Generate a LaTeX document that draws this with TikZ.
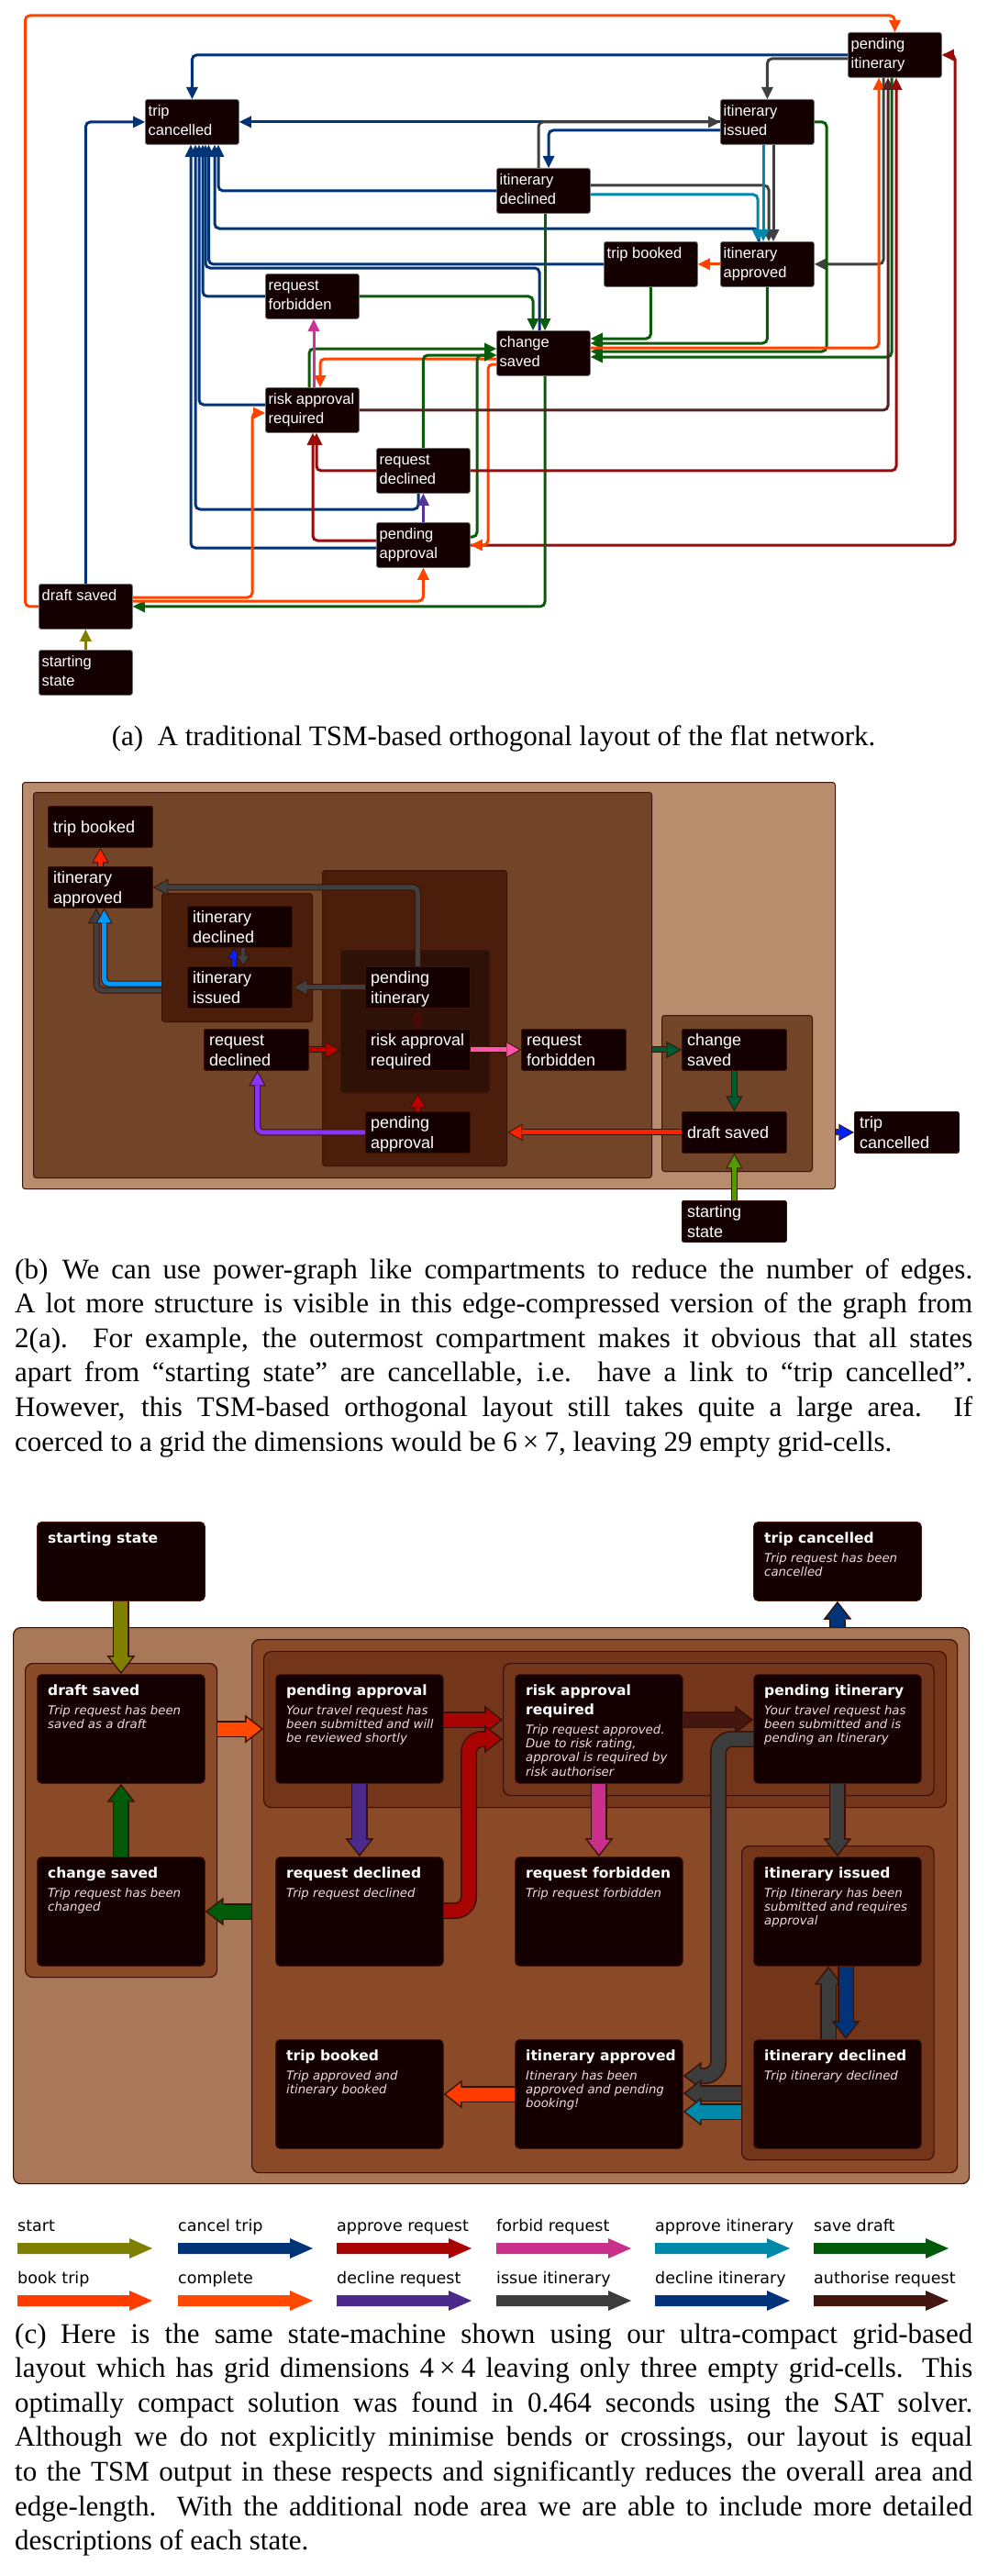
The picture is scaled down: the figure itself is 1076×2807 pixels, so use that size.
\documentclass[tikz,border=0pt]{standalone}
\usepackage{fontspec}
\setmainfont{Liberation Serif}
\newfontfamily\arialf{Liberation Sans}
\newfontfamily\dejavu{DejaVu Sans}[BoldFont={DejaVu Sans Bold},ItalicFont={DejaVu Sans Oblique},BoldItalicFont={DejaVu Sans Bold Oblique}]
\usetikzlibrary{arrows.meta}
% colours
\definecolor{nfill}{HTML}{140000}
\definecolor{cblue}{HTML}{003377}
\definecolor{corange}{HTML}{FF4400}
\definecolor{cgreen}{HTML}{0A5C0A}
\definecolor{cred}{HTML}{990A0A}
\definecolor{cgray}{HTML}{404040}
\definecolor{cteal}{HTML}{0088AA}
\definecolor{cmag}{HTML}{CC3399}
\definecolor{cbrown}{HTML}{552222}
\definecolor{colive}{HTML}{808000}
\definecolor{cviolet}{HTML}{553399}
% (b)
\definecolor{boutl}{HTML}{3A1206}
\definecolor{bc1}{HTML}{B88D6E}
\definecolor{bc2}{HTML}{734528}
\definecolor{bc3}{HTML}{4A1E0A}
\definecolor{bc4}{HTML}{2E1208}
\definecolor{bredA}{HTML}{FF2200}
\definecolor{bgray}{HTML}{404040}
\definecolor{bcyan}{HTML}{0099FF}
\definecolor{bblue}{HTML}{0022FF}
\definecolor{bdred}{HTML}{BB0000}
\definecolor{bbrown}{HTML}{4A0A0A}
\definecolor{bviolet}{HTML}{8833FF}
\definecolor{bpink}{HTML}{FF55AA}
\definecolor{bgreen}{HTML}{005A32}
\definecolor{blgreen}{HTML}{559900}
% (c)
\definecolor{coutl}{HTML}{3A1005}
\definecolor{cc1}{HTML}{A87858}
\definecolor{cc2}{HTML}{8A4A28}
\definecolor{cc3}{HTML}{74361A}
\definecolor{cnb}{HTML}{4A1A10}
\definecolor{cdtext}{HTML}{F0DCDC}
\definecolor{cgreenC}{HTML}{005A0A}
\definecolor{corangeC}{HTML}{FF3C00}
\definecolor{ccomplete}{HTML}{FF4800}
\definecolor{cpurple}{HTML}{4C2A8C}
\definecolor{credC}{HTML}{A80404}
\definecolor{cbrownC}{HTML}{441610}
\definecolor{cmagC}{HTML}{C8308C}
\definecolor{cgrayC}{HTML}{3C3C3C}
\definecolor{ctealC}{HTML}{0088A8}
\definecolor{cnavy}{HTML}{003377}
% fonts
\newcommand\afont{\arialf\fontsize{16.5}{20.5}\selectfont}
\newcommand\bfont{\arialf\fontsize{18}{22}\selectfont}
\newcommand\ctfont{\dejavu\bfseries\fontsize{15.5}{21}\selectfont}
\newcommand\cdfont{\dejavu\itshape\fontsize{13.3}{15.4}\selectfont}
\newcommand\capfont{\fontsize{31}{37.6}\selectfont}
\newcommand\legfont{\dejavu\fontsize{17.5}{20}\selectfont}
\tikzset{
  abox/.style={draw=black!55, line width=0.8pt, fill=nfill, rounded corners=2.5pt, minimum width=102pt, minimum height=49pt, inner sep=0pt, anchor=north west},
  atext/.style={text=white, font=\afont, inner sep=0pt, anchor=base west},
  ae/.style={line width=3pt, rounded corners=5pt, -{Triangle[length=13pt,width=13pt,line width=0pt]}},
  bbox/.style={draw=boutl, line width=0.8pt, fill=nfill, rounded corners=2pt, minimum width=114pt, minimum height=45pt, inner sep=0pt, anchor=north west},
  btext/.style={text=white, font=\bfont, inner sep=0pt, anchor=base west},
  comp/.style={draw=boutl, line width=1pt, rounded corners=3pt, inner sep=0pt, anchor=north west},
  ccomp/.style={draw=coutl, line width=1.2pt, rounded corners=8pt, inner sep=0pt, anchor=north west},
  cbox/.style={draw=cnb, line width=0.8pt, fill=nfill, rounded corners=5pt, minimum width=183pt, inner sep=0pt, anchor=north west},
  ctitle/.style={text=white, font=\ctfont, inner sep=0pt, anchor=base west},
  cdesc/.style={text=cdtext, font=\cdfont, inner sep=0pt, anchor=base west},
  capt/.style={font=\capfont, inner sep=0pt, text=black},
  legt/.style={font=\legfont, inner sep=0pt, anchor=base west, text=black},
}
\newcommand\anode[4]{\node[abox] (#1) at (#2,#3) {};
  \node[atext] (#1t) at (#2+3.5,#3+18.7) {\parbox[t]{98pt}{#4}};}
\newcommand\bnode[5]{\node[bbox] (#1) at (#2,#3) {};
  \node[btext] (#1t) at (#2+6,#3+#5) {\parbox[t]{106pt}{#4}};}
\newcommand\cnode[7]{\node[cbox, minimum height=#4pt] (#1) at (#2,#3) {};
  \node[ctitle] (#1t) at (#2+12,#3+23) {\parbox[t]{170pt}{#5}};
  \node[cdesc] (#1d) at (#2+12,#3+#7) {\parbox[t]{170pt}{#6}};}
\newcommand\fatB[3][]{%
  \draw[#1, line width=7pt, draw=boutl, -{Triangle[length=16.6pt,width=18.4pt,line width=0pt]}] #3;
  \draw[#1, line width=5pt, draw=#2, -{Triangle[length=13.5pt,width=15pt,line width=0pt]}, shorten >=2.06pt] #3;}
\newcommand\fatBs[3][]{%
  \draw[#1, line width=6pt, draw=boutl, -{Triangle[length=12.4pt,width=15.6pt,line width=0pt]}] #3;
  \draw[#1, line width=4pt, draw=#2, -{Triangle[length=9.5pt,width=12pt,line width=0pt]}, shorten >=1.87pt] #3;}
\newcommand\fatC[3][]{%
  \draw[#1, line width=18pt, draw=coutl, -{Triangle[length=19.9pt,width=31pt,line width=0pt]}] #3;
  \draw[#1, line width=15pt, draw=#2, -{Triangle[length=16pt,width=25pt,line width=0pt]}, shorten >=2.43pt] #3;}
\newcommand\legarr[3]{\fill[#3] (#1,#2-6) -- (#1+122,#2-6) -- (#1+122,#2-11) -- (#1+147,#2) -- (#1+122,#2+11) -- (#1+122,#2+6) -- (#1,#2+6) -- cycle;}
\newcommand\jl[1]{\makebox[\linewidth][s]{#1}\\}
\begin{document}
\begin{tikzpicture}[x=1pt,y=-1pt]
\path[use as bounding box, fill=white] (0,0) rectangle (1076,2807);
% ================= (a) =================
\anode{aTC}{158}{108}{trip\\cancelled}
\anode{aPI}{924}{35}{pending\\itinerary}
\anode{aII}{785}{108}{itinerary\\issued}
\anode{aID}{541}{183}{itinerary\\declined}
\anode{aTB}{658}{263}{trip booked}
\anode{aIA}{785}{263}{itinerary\\approved}
\anode{aRF}{289}{298}{request\\forbidden}
\anode{aCS}{541}{360}{change\\saved}
\anode{aRAR}{289}{422}{risk approval\\required}
\anode{aRD}{410}{488}{request\\declined}
\anode{aPA}{410}{569}{pending\\approval}
\anode{aDS}{42}{636}{draft saved}
\anode{aSS}{42}{708}{starting\\state}
% cancel trip
\draw[ae,cblue] (aPI.west) -| (aTC.north);
\draw[ae,cblue] (aDS.north) |- (aTC.west);
\draw[ae,cblue] (aII.west) -- (aTC.east);
\draw[ae,cblue] (aID.west) -| (238,0 |- aTC.south);
\draw[ae,cblue] (827,0 |- aIA.north) |- (234,249) -- (234,0 |- aTC.south);
\draw[ae,cblue] (aTB.west) -| (227.5,0 |- aTC.south);
\draw[ae,cblue] (588,0 |- aCS.north) |- (224,292) -- (224,0 |- aTC.south);
\draw[ae,cblue] (aRF.west) -| (221,0 |- aTC.south);
\draw[ae,cblue] (aRAR.west |- 0,441) -| (217,0 |- aTC.south);
\draw[ae,cblue] (456,0 |- aRD.south) |- (213,555) -- (213,0 |- aTC.south);
\draw[ae,cblue] (aPA.west |- 0,597) -| (208,0 |- aTC.south);
% decline itinerary
\draw[ae,cblue] (aII.west |- 0,142) -| (598,0 |- aID.north);
% issue itinerary
\draw[ae,cgray] (aPI.west |- 0,64) -| (aII.north);
\draw[ae,cgray] (587,0 |- aID.north) |- (aII.west);
\draw[ae,cgray] (aID.east |- 0,202) -| (838,0 |- aIA.north);
\draw[ae,cgray] (843,0 |- aII.south) -- (843,0 |- aIA.north);
\draw[ae,cgray] (963,0 |- aPI.south) |- (aIA.east);
% approve itinerary
\draw[ae,cteal] (832,0 |- aII.south) -- (832,0 |- aIA.north);
\draw[ae,cteal] (aID.east |- 0,212) -| (826,0 |- aIA.north);
% book trip
\draw[ae,corange] (aIA.west) -- (aTB.east);
% approve request (pending approval -> pending itinerary, under the orange head)
\draw[ae,cred] (aPA.east |- 0,594) -| (1041,60) -- (aPI.east |- 0,60);
% save draft
\draw[ae,cgreen] (594,0 |- aCS.south) |- (aDS.east);
\draw[ae,cgreen] (594,0 |- aID.south) -- (594,0 |- aCS.north);
\draw[ae,cgreen] (aRF.east) -| (581,0 |- aCS.north);
\draw[ae,cgreen] (aTB.south) |- (aCS.east |- 0,369);
\draw[ae,cgreen] (aIA.south) |- (aCS.east |- 0,374);
\draw[ae,cgreen] (aII.east) -| (901,383) -- (aCS.east |- 0,383);
\draw[ae,cgreen] (972,0 |- aPI.south) |- (aCS.east |- 0,389);
% complete
\draw[ae,corange] (aDS.west) -| (27.5,17) -| (aPI.north);
\draw[ae,corange] (aDS.east |- 0,651) -| (275,450) -- (aRAR.west |- 0,450);
\draw[ae,corange] (aDS.east |- 0,655) -| (aPA.south);
\draw[ae,corange] (aCS.west |- 0,391) -| (349,0 |- aRAR.north);
\draw[ae,corange] (aCS.west |- 0,397) -| (532,594) -- (aPA.east |- 0,594);
\draw[ae,corange] (aCS.east |- 0,379) -| (958,0 |- aPI.south);
% save draft into the left side of change saved
\draw[ae,cgreen] (337,0 |- aRAR.north) |- (aCS.west |- 0,380);
\draw[ae,cgreen] (aRD.north) |- (aCS.west |- 0,387);
\draw[ae,cgreen] (aPA.east |- 0,585) -| (520,387) -- (aCS.west |- 0,387);
% approve request
\draw[ae,cred] (aPA.west |- 0,589) -| (341,0 |- aRAR.south);
\draw[ae,cred] (aRD.west) -| (345,0 |- aRAR.south);
\draw[ae,cred] (aRD.east) -| (977,0 |- aPI.south);
% forbid request
\draw[ae,cmag] (342,0 |- aRAR.north) -- (342,0 |- aRF.south);
% authorise request
\draw[ae,cbrown] (aRAR.east) -| (968,0 |- aPI.south);
% decline request
\draw[ae,cviolet] (aPA.north) -- (aRD.south);
% start
\draw[ae,colive] (aSS.north) -- (aDS.south);
\node[capt, anchor=base] (capA) at (538,812) {(a)\enspace A traditional TSM-based orthogonal layout of the flat network.};
% ================= (b) =================
\node[comp, fill=bc1, minimum width=886pt, minimum height=443pt] (bOuter) at (24,852) {};
\node[comp, fill=bc2, minimum width=674pt, minimum height=420pt] (bC2) at (36,863) {};
\node[comp, fill=bc3, minimum width=164pt, minimum height=140pt] (bCIdIi) at (176,973) {};
\node[comp, fill=bc3, minimum width=201pt, minimum height=322pt] (bCPa) at (351,948) {};
\node[comp, fill=bc4, minimum width=162pt, minimum height=155pt] (bCRar) at (371,1035) {};
\node[comp, fill=bc2, minimum width=164pt, minimum height=170pt] (bCCs) at (721,1106) {};
\bnode{bTB}{52}{878}{trip booked}{29.5}
\bnode{bIA}{52}{944}{itinerary\\approved}{18.5}
\bnode{bID}{204}{987}{itinerary\\declined}{18.5}
\bnode{bII}{204}{1053}{itinerary\\issued}{18.5}
\bnode{bRD}{222}{1121}{request\\declined}{18.5}
\bnode{bPI}{398}{1053}{pending\\itinerary}{18.5}
\bnode{bRAR}{398}{1121}{risk approval\\required}{18.5}
\bnode{bPA}{398}{1211}{pending\\approval}{18.5}
\bnode{bRF}{568}{1121}{request\\forbidden}{18.5}
\bnode{bCS}{743}{1121}{change\\saved}{18.5}
\bnode{bDS}{743}{1211}{draft saved}{29.5}
\bnode{bTC}{931}{1211}{trip\\cancelled}{18.5}
\bnode{bSS}{743}{1308}{starting\\state}{18.5}
\fatB{bredA}{(bIA.north) -- (bTB.south)}
\fatB[rounded corners=6pt]{bgray}{(bPI.north) |- (bIA.east)}
\fatB[rounded corners=7pt]{bgray}{(bCIdIi.west |- 0,1079) -| (105,0 |- bIA.south)}
\fatB[rounded corners=5pt]{bcyan}{(bCIdIi.west |- 0,1072) -| (113.6,0 |- bIA.south)}
\fatBs{bblue}{(255,0 |- bII.north) -- (255,0 |- bID.south)}
\fatBs{bgray}{(265,0 |- bID.south) -- (265,0 |- bII.north)}
\fatB{bgray}{(bPI.west) -- (bII.east)}
\fatB{bdred}{(bRD.east) -- (bCRar.west |- bRD.east)}
\fatB{bbrown}{(bRAR.north) -- (bPI.south)}
\fatB{bdred}{(bPA.north) -- (bPA.north |- bCRar.south)}
\fatB[rounded corners=6pt]{bviolet}{(bPA.west) -| (280.6,0 |- bRD.south)}
\fatB{bpink}{(bRAR.east) -- (bRF.west)}
\fatB{bgreen}{(bC2.east |- bCS.west) -- (bCS.west)}
\fatB{bgreen}{(bCS.south) -- (bDS.north)}
\fatB{bredA}{(bDS.west) -- (bCPa.east |- bDS.west)}
\fatB{bblue}{(bOuter.east |- bTC.west) -- (bTC.west)}
\fatB{blgreen}{(bSS.north) -- (bDS.south)}
\node[capt, anchor=base west] (capB) at (16,1393) {\parbox[t]{1044pt}{%
\jl{(b)\enspace We can use power-graph like compartments to reduce the number of edges.}%
\jl{A lot more structure is visible in this edge-compressed version of the graph from}%
\jl{2(a). For example, the outermost compartment makes it obvious that all states}%
\jl{apart from “starting state” are cancellable, i.e. have a link to “trip cancelled”.}%
\jl{However, this TSM-based orthogonal layout still takes quite a large area. If}%
coerced to a grid the dimensions would be 6\kern0.2em×\kern0.2em7, leaving 29 empty grid-cells.}};
% ================= (c) =================
\node[ccomp, fill=cc1, minimum width=1042pt, minimum height=606pt] (cOuter) at (14,1773) {};
\node[ccomp, fill=cc2, minimum width=209pt, minimum height=342pt] (cCL) at (27,1812) {};
\node[ccomp, fill=cc2, minimum width=769pt, minimum height=581pt] (cCR) at (274,1786) {};
\node[ccomp, fill=cc3, minimum width=744pt, minimum height=170pt] (cCPa) at (287,1799) {};
\node[ccomp, fill=cc3, minimum width=469.5pt, minimum height=144pt] (cCRar) at (548,1812) {};
\node[ccomp, fill=cc3, minimum width=209.5pt, minimum height=342pt] (cCIi) at (808,2011) {};
\cnode{cSS}{40}{1658}{86}{starting state}{}{44}
\cnode{cTC}{821}{1658}{86}{trip cancelled}{Trip request has been\\cancelled}{44}
\cnode{cDS}{40}{1824}{119}{draft saved}{Trip request has been\\saved as a draft}{44}
\cnode{cPA}{300}{1824}{119}{pending approval}{Your travel request has\\been submitted and will\\be reviewed shortly}{44}
\cnode{cRAR}{561}{1824}{119}{risk approval\\required}{Trip request approved.\\Due to risk rating,\\approval is required by\\risk authoriser}{65}
\cnode{cPI}{821}{1824}{119}{pending itinerary}{Your travel request has\\been submitted and is\\pending an Itinerary}{44}
\cnode{cCS}{40}{2023}{119}{change saved}{Trip request has been\\changed}{44}
\cnode{cRD}{300}{2023}{119}{request declined}{Trip request declined}{44}
\cnode{cRF}{561}{2023}{119}{request forbidden}{Trip request forbidden}{44}
\cnode{cII}{821}{2023}{119}{itinerary issued}{Trip Itinerary has been\\submitted and requires\\approval}{44}
\cnode{cTB}{300}{2222}{119}{trip booked}{Trip approved and\\itinerary booked}{44}
\cnode{cIA}{561}{2222}{119}{itinerary approved}{Itinerary has been\\approved and pending\\booking!}{44}
\cnode{cID}{821}{2222}{119}{itinerary declined}{Trip itinerary declined}{44}
\fatC{colive}{(cSS.south) -- (cDS.north)}
\fatC{cgreenC}{(cCS.north) -- (cDS.south)}
\fatC{cgreenC}{(cCR.west |- 0,2083) -- (cCS.east |- 0,2083)}
\fatC{ccomplete}{(cCL.east |- 0,1884) -- (cCPa.west |- 0,1884)}
\fatC{cpurple}{(cPA.south) -- (cRD.north)}
\fatC{credC}{(cPA.east |- 0,1874) -- (cCRar.west |- 0,1874)}
\fatC[rounded corners=15pt]{credC}{(cRD.east |- 0,2082) -| (511,1895) -- (cCRar.west |- 0,1895)}
\fatC{cbrownC}{(cRAR.east |- 0,1874) -- (cPI.west |- 0,1874)}
\fatC{cmagC}{(cRAR.south) -- (cRF.north)}
\fatC{cgrayC}{(cPI.south) -- (cII.north)}
\fatC[rounded corners=15pt]{cgrayC}{(cPI.west |- 0,1895) -| (783,2262) -- (cIA.east |- 0,2262)}
\fatC{cgrayC}{(cCIi.west |- 0,2281) -- (cIA.east |- 0,2281)}
\fatC{ctealC}{(cCIi.west |- 0,2301) -- (cIA.east |- 0,2301)}
\fatC{cgrayC}{(903,0 |- cID.north) -- (903,0 |- cII.south)}
\fatC{cnavy}{(922,0 |- cII.south) -- (922,0 |- cID.north)}
\fatC{corangeC}{(cIA.west |- 0,2282) -- (cTB.east |- 0,2282)}
\fatC{cnavy}{(913,0 |- cOuter.north) -- (cTC.south)}
% legend
\node[legt] (l1) at (19,2431) {start}; \legarr{19}{2450}{colive}
\node[legt] (l2) at (194,2431) {cancel trip}; \legarr{194}{2450}{cnavy}
\node[legt] (l3) at (367,2431) {approve request}; \legarr{367}{2450}{credC}
\node[legt] (l4) at (541,2431) {forbid request}; \legarr{541}{2450}{cmagC}
\node[legt] (l5) at (714,2431) {approve itinerary}; \legarr{714}{2450}{ctealC}
\node[legt] (l6) at (887,2431) {save draft}; \legarr{887}{2450}{cgreenC}
\node[legt] (l7) at (19,2488) {book trip}; \legarr{19}{2507}{corangeC}
\node[legt] (l8) at (194,2488) {complete}; \legarr{194}{2507}{ccomplete}
\node[legt] (l9) at (367,2488) {decline request}; \legarr{367}{2507}{cpurple}
\node[legt] (l10) at (541,2488) {issue itinerary}; \legarr{541}{2507}{cgrayC}
\node[legt] (l11) at (714,2488) {decline itinerary}; \legarr{714}{2507}{cnavy}
\node[legt] (l12) at (887,2488) {authorise request}; \legarr{887}{2507}{cbrownC}
\node[capt, anchor=base west] (capC) at (16,2553) {\parbox[t]{1044pt}{%
\jl{(c)\enspace Here is the same state-machine shown using our ultra-compact grid-based}%
\jl{layout which has grid dimensions 4\kern0.2em×\kern0.2em4 leaving only three empty grid-cells. This}%
\jl{optimally compact solution was found in 0.464 seconds using the SAT solver.}%
\jl{Although we do not explicitly minimise bends or crossings, our layout is equal}%
\jl{to the TSM output in these respects and significantly reduces the overall area and}%
\jl{edge-length. With the additional node area we are able to include more detailed}%
descriptions of each state.}};
\end{tikzpicture}
\end{document}
